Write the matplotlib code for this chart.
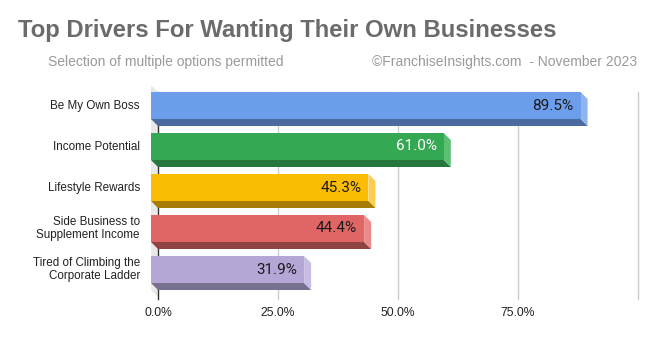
import matplotlib
matplotlib.use("Agg")
import matplotlib.pyplot as plt
from matplotlib.patches import Polygon

categories = ["Be My Own Boss", "Income Potential", "Lifestyle Rewards",
              "Side Business to\nSupplement Income", "Tired of Climbing the\nCorporate Ladder"]
values = [89.5, 61.0, 45.3, 44.4, 31.9]
value_labels = ["89.5%", "61.0%", "45.3%", "44.4%", "31.9%"]
tick_values = [0, 25, 50, 75]
tick_labels = ["0.0%", "25.0%", "50.0%", "75.0%"]
grid_values = [25, 50, 75, 100]

front_colors = ["#6d9eeb", "#34a853", "#fbbc04", "#e06666", "#b4a7d6"]
bottom_colors = ["#4a6aa0", "#26773b", "#a67c02", "#904343", "#78708f"]
side_colors = ["#8fb5f0", "#5cbf73", "#fccc50", "#ea8a8a", "#c8bee3"]
text_colors = ["#1a1a1a", "#ffffff", "#1a1a1a", "#1a1a1a", "#1a1a1a"]

W, H = 655, 337
fig = plt.figure(figsize=(W / 100, H / 100), dpi=100)
ax_l, ax_r, ax_t, ax_b = 158, 638, 92, 297
ax = fig.add_axes([ax_l / W, 1 - ax_b / H, (ax_r - ax_l) / W, (ax_b - ax_t) / H])
ax.set_xlim(0, 100)
ax.set_ylim(len(categories) - 0.5, -0.5)
for s in ax.spines.values():
    s.set_visible(False)
ax.set_xticks([])
ax.set_yticks([])

# depth of the 3D effect in data units (7 px)
DX = 7 * 100 / (ax_r - ax_l)
DY = 7 * len(categories) / (ax_b - ax_t)
BH = 27 * len(categories) / (ax_b - ax_t)
EXT = 2 * len(categories) / (ax_b - ax_t)

# left wall
ax.add_patch(Polygon([(0, -0.5), (-DX, -0.5 - DY), (-DX, 4.5 - DY), (0, 4.5)],
                     closed=True, facecolor="#e9e9e9", edgecolor="none",
                     clip_on=False, zorder=1))
# grid lines
for g in grid_values:
    ax.plot([g, g], [-0.5, 4.5 + EXT], color="#cccccc", lw=1, zorder=1, clip_on=False)
ax.plot([0, 0], [-0.5, 4.5 + EXT], color="#333333", lw=1, zorder=1.5, clip_on=False)

for i, v in enumerate(values):
    yb0, yb1 = i - BH / 2, i + BH / 2           # back face
    yf0, yf1 = yb0 - DY, yb1 - DY               # front face
    xf0, xf1 = -DX, v - DX
    # bottom face
    ax.add_patch(Polygon([(xf0, yf1), (xf1, yf1), (v, yb1), (0, yb1)], closed=True,
                         facecolor=bottom_colors[i], edgecolor="none", clip_on=False, zorder=2))
    # side face
    ax.add_patch(Polygon([(xf1, yf0), (v, yb0), (v, yb1), (xf1, yf1)], closed=True,
                         facecolor=side_colors[i], edgecolor="none", clip_on=False, zorder=2))
    # front face
    ax.add_patch(Polygon([(xf0, yf0), (xf1, yf0), (xf1, yf1), (xf0, yf1)], closed=True,
                         facecolor=front_colors[i], edgecolor="none", clip_on=False, zorder=3))
    ax.annotate(value_labels[i], xy=(v, i), xytext=(-14, 7), textcoords="offset pixels",
                ha="right", va="center", fontsize=11, color=text_colors[i],
                family="Roboto", zorder=4)
    ax.annotate(categories[i], xy=(0, i), xytext=(-18, 7), textcoords="offset pixels",
                ha="right", va="center", fontsize=8.4, color="#222222",
                family="Liberation Sans", linespacing=1.2, annotation_clip=False)

for t, lab in zip(tick_values, tick_labels):
    ax.annotate(lab, xy=(t, 4.5), xytext=(0, -16), textcoords="offset pixels",
                ha="center", va="center", fontsize=8.7, color="#222222",
                family="Liberation Sans", annotation_clip=False)

fig.text(18 / W, 1 - 31 / H, "Top Drivers For Wanting Their Own Businesses",
         fontsize=17.2, fontweight="bold", color="#6b6b6b", family="Liberation Sans",
         ha="left", va="center")
fig.text(48 / W, 1 - 62 / H, "Selection of multiple options permitted",
         fontsize=10, color="#9a9a9a", family="Liberation Sans", ha="left", va="center")
fig.text(637 / W, 1 - 62 / H, "\u00a9FranchiseInsights.com  - November 2023",
         fontsize=10, color="#9a9a9a", family="Liberation Sans", ha="right", va="center")

fig.savefig("out.png", dpi=100)
